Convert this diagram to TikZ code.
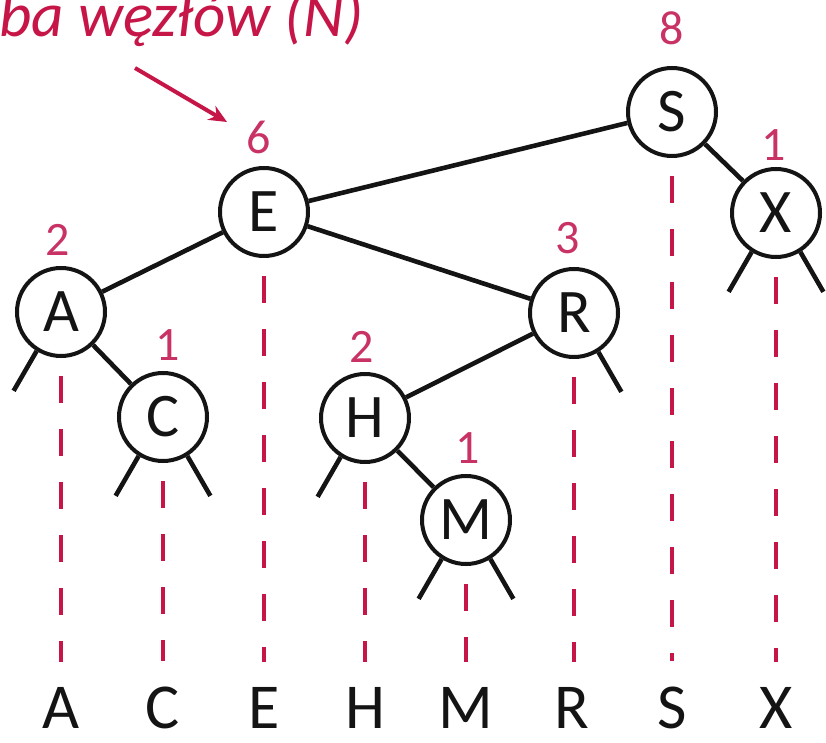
\documentclass[tikz,border=0pt]{standalone}
\usepackage{fontspec}
\setmainfont{Carlito}
\usetikzlibrary{arrows.meta}

\definecolor{bstred}{RGB}{198,22,72}
\definecolor{cntred}{RGB}{200,50,100}
\definecolor{inkblack}{RGB}{20,20,20}

\begin{document}
\begin{tikzpicture}[x=1pt,y=1pt,
  keynode/.style={circle, draw=inkblack, line width=4pt, minimum size=88pt,
    inner sep=0pt, fill=white, font=\fontsize{62}{64}\selectfont, text=inkblack},
  countlbl/.style={text=cntred, inner sep=2pt, font=\fontsize{48}{50}\selectfont},
  keylbl/.style={inner sep=0pt, anchor=base, text depth=0pt, text=inkblack,
    font=\fontsize{64}{66}\selectfont},
  treeedge/.style={draw=inkblack, line width=4.6pt},
  nullline/.style={draw=bstred, line width=4.6pt, dash pattern=on 27pt off 26pt,
    shorten <=18pt, shorten >=25pt},
  pointer/.style={draw=bstred, line width=4pt, -{Stealth[length=18pt,width=16pt]}},
  caption/.style={text=bstred, inner sep=0pt, font=\fontsize{63}{65}\selectfont\itshape}
]
\useasboundingbox (0,0) rectangle (826,742);

% keys sorted along the bottom
\foreach \k/\x in {A/61, C/163, E/264, H/365, M/466, R/572, S/672, X/776}
  \node[keylbl] (l\k) at (\x,14) {\k};

% tree nodes
\node[keynode] (S) at (672,630) {S};
\node[keynode] (X) at (776,529) {X};
\node[keynode] (E) at (264,530) {E};
\node[keynode] (A) at (61,430) {A};
\node[keynode] (R) at (574,429) {R};
\node[keynode] (C) at (163,325) {C};
\node[keynode] (H) at (365,324) {H};
\node[keynode] (M) at (466,222) {M};

% projections of the keys onto the sorted line
\foreach \k in {A,C,E,H,M,R,S,X}
  \draw[nullline] (\k.south) -- (\k.south |- l\k.north);

% tree edges
\draw[treeedge] (E) -- (S);
\draw[treeedge] (S) -- (X);
\draw[treeedge] (E) -- (A);
\draw[treeedge] (E) -- (R);
\draw[treeedge] (A) -- (C);
\draw[treeedge] (R) -- (H);
\draw[treeedge] (H) -- (M);

% null links
\foreach \k in {A,C,H,M,X}
  \draw[treeedge] (\k.238) -- ++(240:46) coordinate (\k-nil-left);
\foreach \k in {C,M,R,X}
  \draw[treeedge] (\k.302) -- ++(300:46) coordinate (\k-nil-right);

% subtree sizes
\node[countlbl] (nS) at (672,714) {8};
\node[countlbl] (nX) at (774,597) {1};
\node[countlbl] (nE) at (259,605) {6};
\node[countlbl] (nA) at (58,502) {2};
\node[countlbl] (nC) at (168,397) {1};
\node[countlbl] (nR) at (568,504) {3};
\node[countlbl] (nH) at (362,395) {2};
\node[countlbl] (nM) at (468,294) {1};

% caption and pointer
\node[caption, anchor=base west] (cap) at (-1,705) {ba węzłów (N)};
\coordinate (ptail) at (135,674);
\draw[pointer] (ptail) -- ([shift={(-32,15)}]nE.center);
\end{tikzpicture}
\end{document}
